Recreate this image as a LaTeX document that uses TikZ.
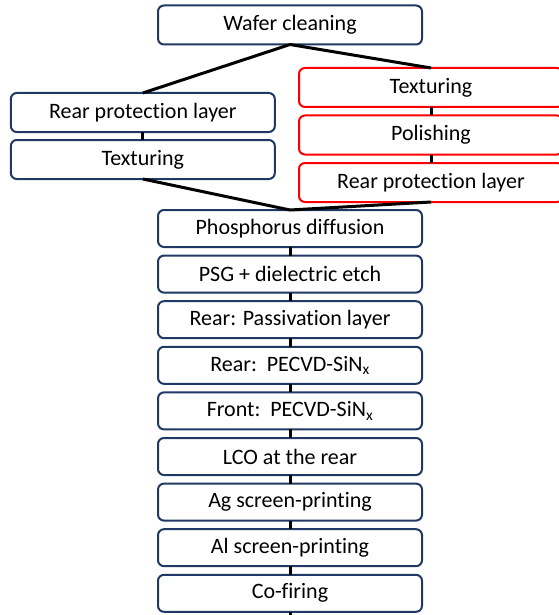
\documentclass[tikz,border=0pt]{standalone}
\usepackage{fontspec}
\setmainfont{Carlito}[Ligatures=NoCommon]
\usetikzlibrary{positioning}
\definecolor{boxblue}{RGB}{32,56,100}
\tikzset{
    procbox/.style={draw=boxblue, line width=2pt, rounded corners=6pt, fill=white, align=center, inner sep=0pt, outer sep=0pt, minimum width=264pt, minimum height=37pt, font=\fontsize{22}{26}\selectfont},
    topbox/.style={procbox, minimum height=39pt},
    redbox/.style={topbox, draw=red},
    link/.style={draw, line width=3pt}
}

\begin{document}
\begin{tikzpicture}[x=1pt, y=1pt, node distance=8.6pt]
\useasboundingbox (0,0) rectangle (558,-615);

% start
\node[topbox] (clean) at (290,-25) {Wafer cleaning};

% left branch
\node[topbox] (lrear) at (142.8,-112.5) {Rear protection layer};
\node[topbox, below=8pt of lrear] (ltex) {Texturing};

% right branch
\node[redbox] (rtex) at (431,-87.5) {Texturing};
\node[redbox, below=8.5pt of rtex] (rpol) {Polishing};
\node[redbox, below=8.5pt of rpol] (rrear) {Rear protection layer};

% main line
\node[procbox] (phos) at (290,-228.5) {Phosphorus diffusion};
\node[procbox, below=of phos] (psg) {PSG + dielectric etch};
\node[procbox, below=of psg] (pass) {Rear: Passivation layer};
\node[procbox, below=of pass] (rsin) {Rear:~~PECVD-SiN\textsubscript{x}};
\node[procbox, below=of rsin] (fsin) {Front:~~PECVD-SiN\textsubscript{x}};
\node[procbox, below=of fsin] (lco) {LCO at the rear};
\node[procbox, below=of lco] (ag) {Ag screen-printing};
\node[procbox, below=of ag] (al) {Al screen-printing};
\node[procbox, below=of al] (fire) {Co-firing};
\coordinate (tail) at (290,-615);

% connectors
\draw[link] (clean.south) -- (lrear.north);
\draw[link] (clean.south) -- (rtex.north);
\draw[link] (ltex.south) -- (phos.north);
\draw[link] (rrear.south) -- (phos.north);
\foreach \a/\b in {lrear/ltex, rtex/rpol, rpol/rrear, phos/psg, psg/pass, pass/rsin, rsin/fsin, fsin/lco, lco/ag, ag/al, al/fire}
    \draw[link] (\a.south) -- (\b.north);
\draw[link] (fire.south) -- (tail);

\end{tikzpicture}
\end{document}
